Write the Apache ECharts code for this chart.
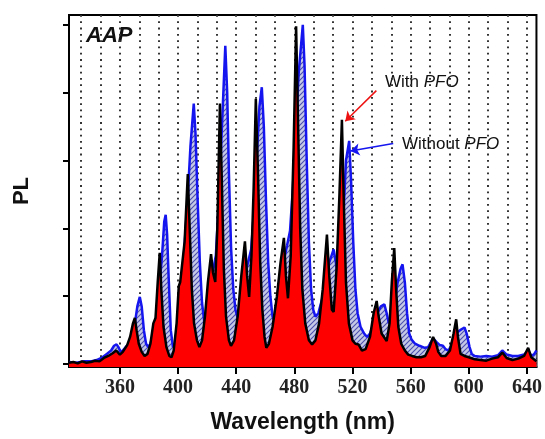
<!DOCTYPE html>
<html>
<head>
<meta charset="utf-8">
<script src="https://cdn.jsdelivr.net/npm/echarts@6/dist/echarts.min.js"></script>
<style>
  html, body { margin: 0; padding: 0; background: #fff; }
  #main { width: 545px; height: 439px; }
</style>
</head>
<body>
<div id="main"></div>
<script>
// PL spectra, y in tick units (0..5)
var xTickLabels = [360, 400, 440, 480, 520, 560, 600, 640];
var yTicks = [0, 1, 2, 3, 4, 5];

var withPFO = [
  [325, 0.02], [328, 0.03], [331, 0.01], [334, 0.04], [337, 0.02], [340, 0.03], [343, 0.05],
  [346, 0.04], [349, 0.09], [352, 0.12], [355, 0.16], [357.5, 0.2], [360, 0.14], [362, 0.18],
  [365, 0.28], [367, 0.4], [369, 0.6], [370.3, 0.68], [371.5, 0.5], [373, 0.3], [375, 0.18],
  [377, 0.12], [379, 0.15], [381, 0.3], [383, 0.6], [384.5, 0.68], [386, 1.2], [387.4, 1.64],
  [388.5, 1.1], [390, 0.55], [392, 0.25], [394, 0.12], [395.5, 0.1], [397, 0.2], [399, 0.6],
  [400.5, 1.15], [401.5, 1.21], [402.5, 1.2], [404.5, 1.8], [406.7, 2.8], [408, 2.0], [409.5, 1.1],
  [411, 0.6], [413, 0.35], [414.7, 0.25], [416.5, 0.35], [418.5, 0.7], [420.5, 1.2], [422.7, 1.62],
  [424, 1.35], [425.6, 1.21], [427, 2.0], [428.8, 3.84], [430, 2.8], [431.5, 1.4], [433, 0.7],
  [435, 0.35], [436.4, 0.27], [438.5, 0.35], [441, 0.7], [443.5, 1.3], [446, 1.81], [447.5, 1.3],
  [448.9, 0.99], [450.5, 1.6], [452, 2.6], [453.5, 3.91], [455, 2.8], [456.5, 1.5], [458, 0.8],
  [459.5, 0.4], [460.7, 0.24], [462.5, 0.3], [465, 0.55], [468, 1.0], [470.5, 1.5], [472.8, 1.86],
  [474.2, 1.3], [475.6, 0.97], [477.5, 1.6], [479.5, 3.2], [481.2, 4.98], [482.5, 3.6], [484, 2.0],
  [485.5, 1.1], [487.5, 0.6], [490, 0.35], [492.2, 0.29], [494.5, 0.35], [497, 0.6], [499.5, 1.1],
  [502.4, 1.91], [504, 1.3], [505.8, 0.8], [507, 0.77], [509, 1.4], [511, 2.5], [512.7, 3.6],
  [514, 2.4], [515.5, 1.2], [517.5, 0.6], [520, 0.35], [522, 0.3], [524.1, 0.29], [526.5, 0.2],
  [529, 0.22], [532, 0.4], [534.5, 0.75], [536.6, 0.93], [538, 0.7], [540, 0.45], [543.5, 0.34],
  [545.5, 0.6], [547, 1.2], [548.7, 1.71], [550, 1.1], [551.5, 0.55], [553.5, 0.3], [556, 0.2],
  [558.3, 0.14], [561, 0.12], [564, 0.1], [567, 0.1], [570, 0.12], [573, 0.25], [575.4, 0.4],
  [577.5, 0.3], [579, 0.18], [581, 0.12], [584, 0.12], [587, 0.2], [589.5, 0.45], [591.3, 0.66],
  [592.5, 0.4], [594.3, 0.15], [597, 0.12], [600, 0.1], [604, 0.07], [608, 0.06], [612, 0.05],
  [616, 0.08], [620, 0.1], [623, 0.17], [626, 0.09], [630, 0.06], [634, 0.08], [638, 0.12],
  [640.8, 0.24], [643, 0.1], [646.5, 0.04]
];

var withoutPFO = [
  [325, 0.03], [330, 0.02], [335, 0.04], [340, 0.04], [344, 0.06], [348, 0.1], [351, 0.15],
  [354, 0.2], [356, 0.27], [357.7, 0.29], [359, 0.25], [360.5, 0.18], [362, 0.2], [364, 0.25],
  [366, 0.3], [368, 0.4], [370, 0.55], [372, 0.85], [373.7, 0.99], [375, 0.85], [376.5, 0.5],
  [378, 0.3], [379.5, 0.25], [381, 0.3], [383, 0.45], [385, 0.7], [387, 1.1], [389, 1.6],
  [390.5, 2.1], [391.5, 2.2], [392.5, 1.9], [393.5, 1.3], [395, 0.5], [396.5, 0.25], [398, 0.3],
  [401, 0.9], [404, 1.6], [406.5, 2.4], [408.5, 3.2], [410.8, 3.84], [412, 3.4], [413.5, 2.4],
  [415, 1.5], [416.5, 0.9], [418, 0.63], [419.5, 0.75], [421, 1.0], [423, 1.25], [426, 1.6],
  [428, 2.4], [430, 3.4], [432.5, 4.69], [433.8, 4.0], [435, 2.8], [436.5, 1.7], [438, 1.1],
  [439.5, 0.8], [441, 0.68], [442.5, 0.8], [444.5, 1.1], [447, 1.4], [450.3, 1.69], [452, 2.2],
  [454, 3.0], [456, 3.8], [457.6, 4.08], [459, 3.5], [460.5, 2.4], [462, 1.5], [463.5, 1.0],
  [465, 0.7], [466.5, 0.63], [468.5, 0.8], [471, 1.2], [473.5, 1.6], [475, 1.75], [477, 1.96],
  [479, 2.6], [481, 3.5], [483, 4.3], [485.8, 5.0], [487, 4.4], [488.5, 3.0], [490, 1.8],
  [491.5, 1.1], [493, 0.8], [494.5, 0.7], [496.5, 0.75], [499, 0.95], [501.5, 1.2], [504, 1.5],
  [507, 1.69], [508.5, 1.5], [510, 1.3], [512, 1.6], [514, 2.3], [515.5, 3.0], [517.7, 3.29],
  [519, 2.7], [520.5, 1.8], [522, 1.1], [523.5, 0.75], [525.5, 0.55], [528, 0.45], [530, 0.4],
  [532, 0.45], [534.5, 0.6], [537, 0.75], [539.5, 0.85], [541.9, 0.88], [543.5, 0.75], [545, 0.6],
  [547, 0.7], [549, 0.9], [551, 1.2], [553, 1.4], [554.4, 1.47], [556, 1.2], [557.5, 0.75],
  [559, 0.45], [560.6, 0.36], [563, 0.3], [566, 0.27], [569.7, 0.24], [572, 0.25], [575.4, 0.38],
  [578, 0.32], [580, 0.28], [582.2, 0.27], [584, 0.22], [586, 0.2], [588.5, 0.3], [591, 0.45],
  [594, 0.5], [597, 0.54], [598.5, 0.45], [600.5, 0.25], [602, 0.15], [604, 0.12], [608, 0.11],
  [612, 0.12], [616, 0.11], [620, 0.13], [623, 0.2], [626, 0.14], [630, 0.12], [634, 0.12],
  [638, 0.14], [640.8, 0.2], [643, 0.12], [645, 0.15], [646.5, 0.2]
];

// every third of a major step gets a dotted grid line
var gridTicks = [];
for (var i = 1; i <= 24; i++) gridTicks.push(320 + i * 40 / 3);

function hatch() {
  var c = document.createElement('canvas');
  c.width = 5; c.height = 5;
  var g = c.getContext('2d');
  g.fillStyle = '#c6c9e6';
  g.fillRect(0, 0, 5, 5);
  g.strokeStyle = '#4a4fae';
  g.lineWidth = 1.1;
  g.beginPath();
  g.moveTo(0, 5); g.lineTo(5, 0);
  g.moveTo(-1, 1); g.lineTo(1, -1);
  g.moveTo(4, 6); g.lineTo(6, 4);
  g.stroke();
  return c;
}

var sans = '"Liberation Sans", Arial, sans-serif';

var option = {
  animation: false,
  grid: {
    left: 69, right: 6, top: 15, bottom: 66,
    show: true, borderColor: '#000', borderWidth: 2
  },
  xAxis: [
    {
      type: 'value', min: 325, max: 646.5,
      axisLine: { onZero: false, lineStyle: { color: '#000', width: 2 } },
      axisTick: { customValues: xTickLabels, length: 7, lineStyle: { color: '#000', width: 2 } },
      axisLabel: {
        customValues: xTickLabels, margin: 11,
        fontFamily: '"Liberation Serif", "Times New Roman", serif',
        fontWeight: 'bold', fontSize: 20, color: '#222'
      },
      splitLine: { show: false },
      name: 'Wavelength (nm)', nameLocation: 'middle', nameGap: 44,
      nameTextStyle: { fontFamily: sans, fontWeight: 'bold', fontSize: 23, color: '#111' }
    },
    {
      type: 'value', min: 325, max: 646.5, position: 'bottom',
      axisLine: { show: false },
      axisTick: { customValues: gridTicks, length: 4, lineStyle: { color: '#000', width: 2 } },
      axisLabel: { show: false },
      splitLine: { show: true, lineStyle: { color: '#333', width: 2, type: [1.8, 4.5] } }
    }
  ],
  yAxis: {
    type: 'value', min: -0.043, max: 5.145,
    axisLine: { show: true, onZero: false, lineStyle: { color: '#000', width: 2 } },
    axisTick: { show: true, customValues: yTicks, length: 6, lineStyle: { color: '#000', width: 2 } },
    axisLabel: { show: false },
    splitLine: { show: false },
    name: 'PL', nameLocation: 'middle', nameGap: 36, nameRotate: 90,
    nameTextStyle: { fontFamily: sans, fontWeight: 'bold', fontSize: 22, color: '#111' }
  },
  series: [
    {
      name: 'Without PFO', type: 'line', data: withoutPFO, symbol: 'none',
      lineStyle: { color: '#1515f0', width: 2.5 },
      areaStyle: { color: { image: hatch(), repeat: 'repeat' }, opacity: 1, origin: 'start' },
      z: 2
    },
    {
      name: 'With PFO', type: 'line', data: withPFO, symbol: 'none',
      lineStyle: { color: '#000', width: 2.5 },
      areaStyle: { color: '#ff0000', opacity: 1, origin: 'start' },
      z: 3,
      markLine: {
        silent: true, symbol: ['none', 'arrow'], symbolSize: 9,
        label: { show: false },
        data: [
          [{ coord: [536.4, 4.03], lineStyle: { color: '#ee1111', width: 1.5, type: 'solid' } }, { coord: [515, 3.58] }],
          [{ coord: [548, 3.25], lineStyle: { color: '#1515f0', width: 1.5, type: 'solid' } }, { coord: [518.6, 3.14] }]
        ]
      }
    }
  ],
  graphic: [
    {
      type: 'text', x: 86, y: 36,
      style: { text: 'AAP', font: 'italic bold 22px ' + sans, fill: '#111', verticalAlign: 'middle' }
    },
    {
      type: 'text', x: 385, y: 82,
      style: {
        text: '{a|With }{b|PFO}', verticalAlign: 'middle',
        rich: {
          a: { fontFamily: sans, fontSize: 17, fill: '#111' },
          b: { fontFamily: sans, fontSize: 17, fontStyle: 'italic', fill: '#111' }
        }
      }
    },
    {
      type: 'text', x: 402, y: 144,
      style: {
        text: '{a|Without }{b|PFO}', verticalAlign: 'middle',
        rich: {
          a: { fontFamily: sans, fontSize: 17, fill: '#111' },
          b: { fontFamily: sans, fontSize: 17, fontStyle: 'italic', fill: '#111' }
        }
      }
    }
  ]
};

var chart = echarts.init(document.getElementById('main'));
chart.setOption(option);
</script>
</body>
</html>
